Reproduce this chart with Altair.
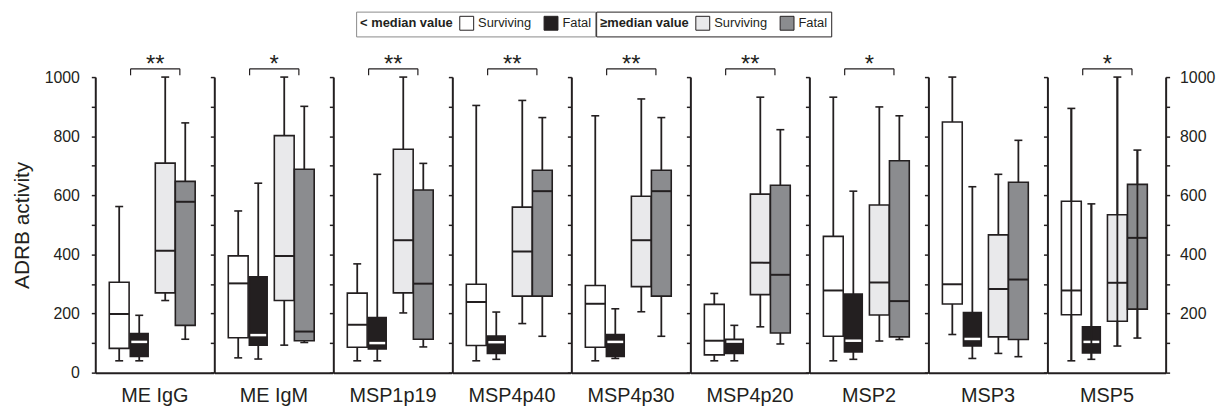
import altair as alt
import pandas as pd

# ---------------- data ----------------
panels = ["ME IgG", "ME IgM", "MSP1p19", "MSP4p40", "MSP4p30",
          "MSP4p20", "MSP2", "MSP3", "MSP5"]
groups = ["bs", "bf", "as", "af"]  # <median Surviving/Fatal, >=median Surviving/Fatal

# < median value, Surviving (white)
bs_min = [40, 50, 40, 40, 40, 40, 40, 129, 40]
bs_q1 = [82, 118, 86, 92, 86, 60, 123, 232, 196]
bs_med = [198, 302, 162, 239, 233, 108, 278, 299, 278]
bs_q3 = [306, 395, 269, 299, 295, 231, 461, 848, 580]
bs_max = [562, 547, 368, 904, 869, 268, 932, 1000, 894]

# < median value, Fatal (black)
bf_min = [40, 46, 40, 45, 48, 40, 45, 48, 45]
bf_q1 = [55, 93, 80, 65, 55, 65, 70, 90, 67]
bf_med = [104, 127, 100, 103, 104, 105, 108, 114, 104]
bf_q3 = [132, 324, 186, 124, 129, 113, 266, 203, 155]
bf_max = [194, 641, 671, 205, 216, 160, 614, 629, 571]

# >= median value, Surviving (light gray)
as_min = [244, 93, 202, 166, 206, 155, 107, 65, 90]
as_q1 = [270, 244, 270, 259, 291, 264, 195, 121, 174]
as_med = [412, 395, 448, 410, 448, 372, 305, 283, 304]
as_q3 = [709, 802, 756, 560, 597, 604, 567, 466, 534]
as_max = [1000, 1000, 1000, 921, 926, 932, 899, 671, 1000]

# >= median value, Fatal (dark gray)
af_min = [113, 102, 87, 123, 123, 97, 112, 54, 117]
af_q1 = [160, 108, 113, 259, 259, 134, 121, 112, 215]
af_med = [578, 139, 301, 614, 614, 331, 242, 315, 456]
af_q3 = [647, 688, 618, 685, 685, 634, 717, 644, 637]
af_max = [845, 901, 708, 863, 863, 822, 869, 786, 753]

sig = ["**", "*", "**", "**", "**", "**", "*", "", "*"]
status = ["Surviving", "Fatal"]
y_ticks = list(range(0, 1001, 100))

# ---------------- layout / style constants ----------------
INK = "#231f20"
TEXT = "#231f20"
FONT = "Liberation Sans"
PANEL_W = 119.2
PANEL_H = 298
SLOT = {"bs": 0.175, "bf": 0.36, "as": 0.60, "af": 0.785}
BOX_W = {"bs": 20, "bf": 18, "as": 20, "af": 20}
FILL = {"bs": "#ffffff", "bf": INK, "as": "#e9e9eb", "af": "#8b8c8f"}
MED_W = {"bs": 20, "bf": 16, "as": 20, "af": 20}
MED_T = {"bs": 2, "bf": 2.5, "as": 2, "af": 2}
MED_C = {"bs": INK, "bf": "#ffffff", "as": INK, "af": INK}
CAP_W = 8
BR_X = (0.28, 0.735)
BR_Y = 1028
BR_DROP = 22

stats = {
    "bs": (bs_min, bs_q1, bs_med, bs_q3, bs_max),
    "bf": (bf_min, bf_q1, bf_med, bf_q3, bf_max),
    "as": (as_min, as_q1, as_med, as_q3, as_max),
    "af": (af_min, af_q1, af_med, af_q3, af_max),
}
rows = []
for i, p in enumerate(panels):
    for g in groups:
        mn, q1, md, q3, mx = stats[g]
        rows.append({"panel": p, "grp": g, "pos": SLOT[g], "lo": mn[i],
                     "q1": q1[i], "med": md[i], "q3": q3[i], "hi": mx[i]})
box_df = pd.DataFrame(rows)

XS = alt.Scale(domain=[0, 1], nice=False, zero=False)
YS = alt.Scale(domain=[0, 1000], nice=False, zero=True)


def y_axis(i, orient="left"):
    common = dict(values=y_ticks, tickSize=4, tickWidth=1.5, tickColor=INK,
                  domainColor=INK, domainWidth=2, grid=False, orient=orient)
    if orient == "right":
        return alt.Axis(labelExpr="datum.value % 200 == 0 && datum.value > 0 ? datum.value : ''",
                        labelFont=FONT, labelFontSize=16, labelColor=TEXT,
                        labelPadding=10, **common)
    if i == 0:
        return alt.Axis(labelExpr="datum.value % 200 == 0 ? datum.value : ''",
                        labelFont=FONT, labelFontSize=16, labelColor=TEXT,
                        labelPadding=12, titleFont=FONT, titleFontSize=21,
                        titleFontWeight="normal", titleColor=TEXT,
                        titlePadding=12, **common)
    return alt.Axis(labels=False, **common)


def legend_layer(title, colors, lx, stroke_color):
    df = pd.DataFrame({"status": status})
    return alt.Chart(df).mark_square(clip=True, opacity=1, stroke=INK, strokeWidth=1).encode(
        x=alt.XDatum(0.5, axis=None),
        y=alt.YDatum(-5000, axis=None),
        fill=alt.Fill("status:N",
                      scale=alt.Scale(domain=status, range=colors),
                      legend=alt.Legend(
                          title=title, orient="none", legendX=lx, legendY=-66,
                          direction="horizontal", titleOrient="left",
                          titleFont=FONT, titleFontSize=13, titleFontWeight="bold",
                          titleColor=TEXT, titlePadding=6,
                          labelFont=FONT, labelFontSize=13, labelColor=TEXT,
                          labelOffset=4, columnPadding=10,
                          symbolType="square", symbolSize=196, symbolOpacity=1,
                          symbolStrokeColor=INK, symbolStrokeWidth=1,
                          strokeColor=stroke_color, padding=4)),
    )


def panel_chart(i):
    name = panels[i]
    d = box_df[box_df["panel"] == name]
    base = alt.Chart(d)
    x_axis = alt.Axis(domain=True, domainColor=INK, domainWidth=2, ticks=False,
                      labels=False, grid=False, titleFont=FONT, titleFontSize=20,
                      titleFontWeight="normal", titleColor=TEXT, titlePadding=13)
    X_main = alt.X("pos:Q", scale=XS, axis=x_axis, title=name)
    X = alt.X("pos:Q", scale=XS, axis=None)
    y_title = "ADRB activity" if i == 0 else None

    layers = [
        base.mark_rule(color=INK, strokeWidth=1.8).encode(
            x=X_main,
            y=alt.Y("lo:Q", scale=YS, axis=y_axis(i), title=y_title),
            y2="hi:Q"),
        base.transform_fold(["lo", "hi"], as_=["stat", "val"]).mark_tick(
            orient="horizontal", size=CAP_W, thickness=1.6, color=INK, opacity=1).encode(
            x=X, y=alt.Y("val:Q", scale=YS, axis=None)),
    ]
    for g in groups:
        layers.append(
            base.transform_filter(alt.datum.grp == g).mark_bar(
                size=BOX_W[g], fill=FILL[g], stroke=INK, strokeWidth=1.6).encode(
                x=X, y=alt.Y("q1:Q", scale=YS, axis=None), y2="q3:Q"))
    for g in groups:
        layers.append(
            base.transform_filter(alt.datum.grp == g).mark_tick(
                orient="horizontal", size=MED_W[g], thickness=MED_T[g],
                color=MED_C[g], opacity=1).encode(
                x=X, y=alt.Y("med:Q", scale=YS, axis=None)))
    if sig[i]:
        bdf = pd.DataFrame({"sig": [sig[i]]})
        bb = alt.Chart(bdf)
        layers.append(bb.mark_rule(color=INK, strokeWidth=1.2).encode(
            x=alt.XDatum(BR_X[0], axis=None), x2=alt.X2Datum(BR_X[1]),
            y=alt.YDatum(BR_Y, axis=None)))
        for bx in BR_X:
            layers.append(bb.mark_rule(color=INK, strokeWidth=1.2).encode(
                x=alt.XDatum(bx, axis=None),
                y=alt.YDatum(BR_Y - BR_DROP, axis=None), y2=alt.Y2Datum(BR_Y)))
        layers.append(bb.mark_text(font=FONT, fontSize=24, color=TEXT,
                                   baseline="alphabetic", dy=3).encode(
            x=alt.XDatum((BR_X[0] + BR_X[1]) / 2, axis=None),
            y=alt.YDatum(BR_Y, axis=None), text="sig:N"))
    if i == len(panels) - 1:
        layers.append(base.mark_rule(color=INK, strokeWidth=1.8).encode(
            x=X, y=alt.Y("lo:Q", scale=YS, axis=y_axis(i, "right"), title=None),
            y2="hi:Q"))
    if i == 0:
        layers.append(legend_layer("< median value", ["#ffffff", INK], 263, "#8a8a8a"))
        layers.append(legend_layer("\u2265median value", ["#e9e9eb", "#8b8c8f"], 505, INK))
    ch = alt.layer(*layers).properties(width=PANEL_W, height=PANEL_H)
    ch = ch.resolve_axis(x="independent", y="independent")
    if i == 0:
        ch = ch.resolve_scale(fill="independent")
    return ch


chart = alt.hconcat(*[panel_chart(i) for i in range(len(panels))],
                    spacing=0, bounds="flush").properties(
    padding={"left": 3, "top": 1, "right": 5, "bottom": 0}
).configure_view(stroke=None)

chart.save("out.html", embed_options={"renderer": "svg", "actions": False})
